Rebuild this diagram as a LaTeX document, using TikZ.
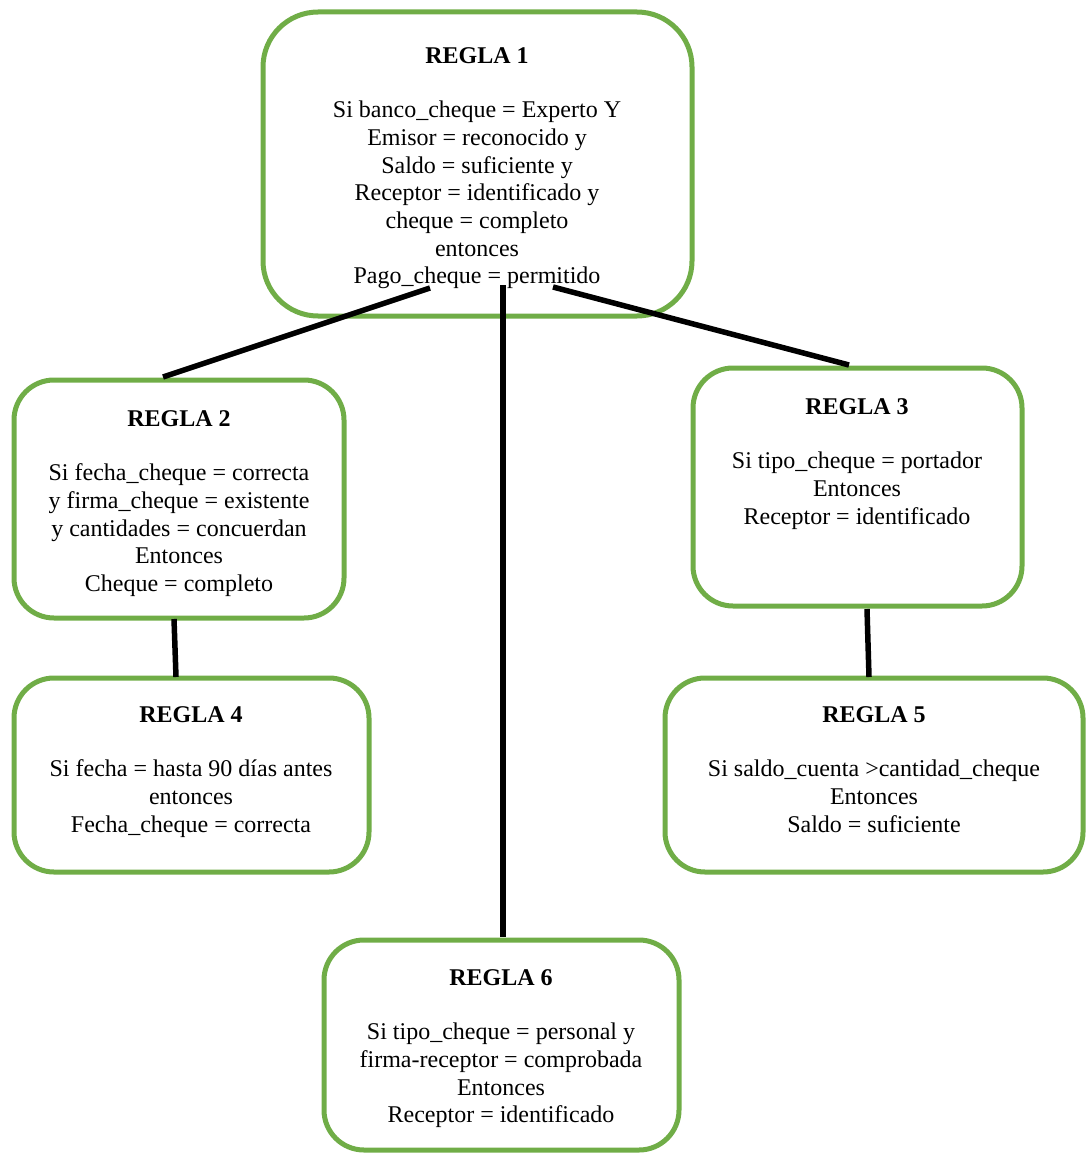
\documentclass[tikz,border=0pt]{standalone}
\usepackage{fontspec}
\setmainfont{Liberation Serif}
\definecolor{boxgreen}{RGB}{112,173,71}
\begin{document}
\begin{tikzpicture}[x=1pt,y=-1pt,
  box/.style={draw=boxgreen,line width=5pt,rounded corners=40pt,inner sep=0pt},
  txt/.style={anchor=north,align=center,inner sep=0pt,font=\fontsize{24}{27.7}\selectfont},
  conn/.style={draw=black,line width=5.5pt}]
\useasboundingbox (0,0) rectangle (1091,1153);
% boxes
\node[box,rounded corners=55pt,minimum width=429pt,minimum height=304pt] (b1) at (477.5,164) {};
\node[box,minimum width=330pt,minimum height=238pt] (b2) at (179,499) {};
\node[box,minimum width=329pt,minimum height=238pt] (b3) at (857.5,487) {};
\node[box,minimum width=355pt,minimum height=194pt] (b4) at (191.5,775) {};
\node[box,minimum width=418pt,minimum height=194pt] (b5) at (874,775) {};
\node[box,minimum width=355pt,minimum height=210pt] (b6) at (501.5,1045) {};
% texts
\node[txt] (t1) at (477,47) {\textbf{REGLA 1}\\[27pt]
  Si banco\_cheque = Experto Y\\ Emisor = reconocido y\\ Saldo = suficiente y\\
  Receptor = identificado y\\ cheque = completo\\ entonces\\ Pago\_cheque = permitido};
\node[txt] (t2) at (179,410) {\textbf{REGLA 2}\\[27pt]
  Si fecha\_cheque = correcta\\ y firma\_cheque = existente\\ y cantidades = concuerdan\\
  Entonces\\ Cheque = completo};
\node[txt] (t3) at (857,398) {\textbf{REGLA 3}\\[27pt]
  Si tipo\_cheque = portador\\ Entonces\\ Receptor = identificado};
\node[txt] (t4) at (191,706) {\textbf{REGLA 4}\\[27pt]
  Si fecha = hasta 90 días antes\\ entonces\\ Fecha\_cheque = correcta};
\node[txt] (t5) at (874,706) {\textbf{REGLA 5}\\[27pt]
  Si saldo\_cuenta >cantidad\_cheque\\ Entonces\\ Saldo = suficiente};
\node[txt] (t6) at (501,969) {\textbf{REGLA 6}\\[27pt]
  Si tipo\_cheque = personal y\\ firma-receptor = comprobada\\ Entonces\\ Receptor = identificado};
% connector ends
\coordinate (s12) at (430,288);
\coordinate (e12) at (163,377);
\coordinate (s16) at (503,285);
\coordinate (e16) at (503,937);
\coordinate (s13) at (553,287);
\coordinate (e13) at (849,365);
\coordinate (s24) at (174,619);
\coordinate (e24) at (176,677);
\coordinate (s35) at (867,609);
\coordinate (e35) at (869,677);
\draw[conn] (s12) -- (e12);
\draw[conn] (s16) -- (e16);
\draw[conn] (s13) -- (e13);
\draw[conn] (s24) -- (e24);
\draw[conn] (s35) -- (e35);
\end{tikzpicture}
\end{document}
